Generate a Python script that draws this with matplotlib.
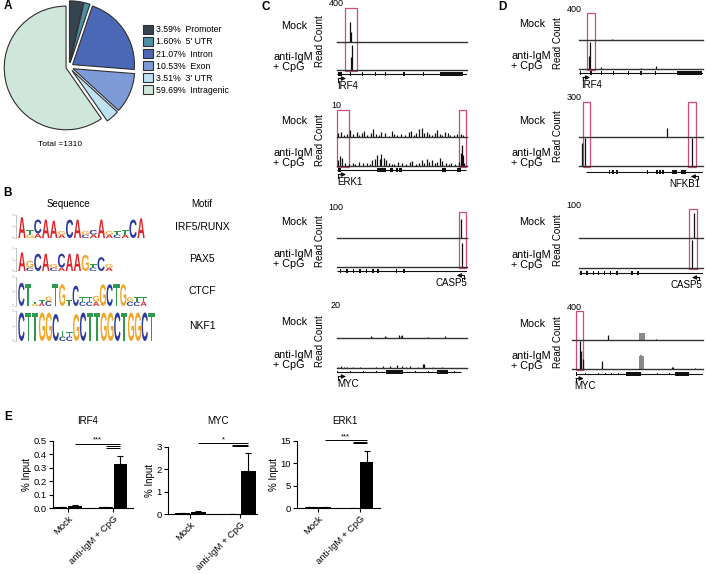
import matplotlib
matplotlib.use("Agg")
import matplotlib.pyplot as plt
import matplotlib.transforms as mtransforms
from matplotlib.patches import Rectangle, PathPatch
from matplotlib.textpath import TextPath
from matplotlib.font_manager import FontProperties

plt.rcParams["font.family"] = ["Liberation Sans", "DejaVu Sans"]

W, H = 708, 574

# ---------------- A: peak annotation ----------------
region_names = ["Promoter", "5' UTR", "Intron", "Exon", "3' UTR", "Intragenic"]
region_pcts = [3.59, 1.60, 21.07, 10.53, 3.51, 59.69]
region_colors = ["#36444f", "#4b8fa4", "#4a68b6", "#7d9bd6", "#bde2f2", "#cfe7db"]
total_peaks = 1310

# ---------------- B: motifs (columns bottom -> top, letter / bits) ----------------
motif_names = ["IRF5/RUNX", "PAX5", "CTCF", "NKF1"]
logo_irf5 = [
    [("A", 1.8)], [("G", 0.3), ("T", 0.4)], [("A", 0.4), ("C", 1.2)], [("A", 1.6)],
    [("A", 1.5)], [("A", 0.3), ("G", 0.3)], [("C", 1.6)], [("A", 1.6)],
    [("C", 0.3), ("G", 0.3)], [("A", 0.3), ("C", 0.4)], [("A", 1.6)], [("A", 0.3), ("G", 0.3)],
    [("C", 0.3), ("T", 0.3)], [("A", 0.3), ("T", 0.4)], [("C", 1.6)], [("A", 1.7)],
]
logo_pax5 = [
    [("A", 1.6)], [("C", 0.3), ("G", 0.6)], [("C", 1.5)], [("A", 1.5)],
    [("C", 0.3), ("G", 0.3)], [("A", 0.3), ("C", 1.2)], [("A", 1.5)], [("A", 1.5)],
    [("G", 1.4)], [("C", 0.3), ("T", 0.3)], [("C", 1.2)], [("A", 0.3), ("G", 0.3)],
]
logo_ctcf = [
    [("C", 1.6)], [("T", 1.5)], [("G", 0.15), ("T", 0.15)], [("A", 0.2), ("T", 0.2)],
    [("C", 0.35), ("G", 0.3)], [("T", 1.5)], [("G", 1.5)], [("T", 0.4)], [("C", 1.4)],
    [("C", 0.3), ("T", 0.3)], [("C", 0.3), ("T", 0.3)], [("A", 0.3), ("G", 0.4)],
    [("G", 1.5)], [("C", 1.5)], [("T", 1.5)], [("G", 1.5)], [("C", 0.3), ("G", 0.3)],
    [("C", 0.3), ("T", 0.3)], [("A", 0.3), ("T", 0.3)],
]
logo_nkf1 = [
    [("C", 1.9)], [("T", 1.9)], [("T", 1.9)], [("G", 1.9)], [("G", 1.9)], [("C", 1.8)],
    [("C", 0.3), ("T", 0.4)], [("C", 0.3), ("T", 0.3)], [("G", 1.8)], [("C", 1.9)],
    [("T", 1.9)], [("T", 1.9)], [("G", 1.9)], [("G", 1.9)], [("C", 1.9)], [("T", 1.9)],
    [("G", 1.9)], [("G", 1.9)], [("C", 1.9)], [("T", 1.9)],
]
logo_colors = {"A": "#e0262a", "C": "#2b3aa0", "G": "#f2a72b", "T": "#2e9a4b"}

# ---------------- C / D: read tracks (x = % of window, y = reads) ----------------
c_irf4_mock = [(10, 230), (11, 120)]
c_irf4_anti = [(10.5, 200), (11.5, 370)]
c_irf4_boxes = [(6, 15)]
c_irf4_exons = [(1, 3), (10, 0.8), (19, 0.8), (29, 0.8), (37, 0.8), (51, 1.5), (66, 0.8), (79, 18)]

c_erk1_mock_x = [1, 3, 5, 8, 10, 12, 15, 17, 19, 21, 23, 26, 28, 30, 32, 34, 37, 40, 42, 44,
                 46, 49, 52, 55, 57, 59, 61, 63, 65, 67, 69, 71, 73, 75, 77, 79, 81, 83, 85, 87,
                 90, 92, 95, 97]
c_erk1_mock_h = [1.5, 2.0, 0.8, 1.2, 2.5, 1.0, 1.8, 0.6, 1.4, 2.2, 0.9, 1.6, 3.0, 1.1, 0.7, 1.9,
                 1.3, 0.5, 2.4, 1.0, 0.6, 1.2, 0.8, 1.7, 2.1, 0.9, 1.4, 2.8, 3.2, 1.6, 2.0, 1.1,
                 0.8, 1.5, 2.6, 1.2, 0.9, 1.8, 1.3, 0.7, 0.6, 1.0, 1.2, 0.8]
c_erk1_anti_x = [1, 2, 4, 6, 9, 12, 14, 17, 20, 23, 25, 27, 29, 31, 33, 34, 36, 38, 40, 42,
                 44, 47, 50, 53, 56, 58, 61, 63, 65, 67, 69, 71, 73, 75, 77, 79, 81, 84, 86, 88,
                 91, 94, 95, 96, 97, 98]
c_erk1_anti_h = [2.0, 3.5, 2.8, 1.2, 0.8, 1.0, 0.6, 1.5, 0.9, 1.2, 0.7, 2.0, 2.6, 3.8, 2.4, 4.2,
                 3.0, 2.2, 1.1, 0.8, 0.6, 1.3, 0.9, 0.7, 1.4, 1.8, 0.6, 0.9, 2.1, 1.2, 2.5, 1.6,
                 2.2, 0.9, 1.4, 2.7, 1.9, 1.0, 0.7, 0.9, 0.6, 1.5, 4.5, 7.5, 3.8, 1.2]
c_erk1_boxes = [(0, 9), (94, 99.5)]
c_erk1_exons = [(1, 2), (31, 7), (41, 2), (45, 2), (48, 2), (81, 2.5), (92, 3)]

c_casp5_mock = [(95, 75)]
c_casp5_anti = [(96, 85)]
c_casp5_boxes = [(94, 99.5)]
c_casp5_exons = [(2, 1.2), (7, 1.2), (12, 1.2), (17, 1.2), (22, 1.2), (27, 1.2), (31, 1.2),
                 (45, 1.5), (51, 1.5)]

c_myc_mock = [(26, 1.5), (27, 1), (37, 1.5), (38, 1), (48, 2), (49, 1.5), (50, 2), (70, 1), (83, 1.5)]
c_myc_anti = [(1, 1), (3, 1.5), (5, 1), (8, 1), (12, 0.8), (18, 0.6), (30, 1), (35, 1.2), (41, 1.5),
              (46, 2), (50, 1.4), (53, 1), (56, 1.6), (62, 0.8), (66, 3), (67, 2.5), (74, 0.6), (81, 0.8)]
c_myc_exons = [(0, 0.6), (5, 0.6), (10, 0.6), (15, 0.6), (20, 0.6), (25, 0.6), (30, 0.6), (38, 13),
               (55, 0.6), (60, 0.6), (65, 0.6), (70, 0.6), (77, 8), (90, 0.6)]

d_irf4_mock = [(27, 12)]
d_irf4_anti = [(8.2, 180), (9, 380), (18, 30), (50, 20), (62, 40)]
d_irf4_boxes = [(6.5, 12.8)]
d_irf4_exons = [(0.5, 1), (8.5, 2), (17.5, 0.8), (27.5, 0.8), (39.5, 0.8), (49.5, 1.6), (61.5, 0.8), (79, 20)]

d_nfkb1_mock = [(71, 80)]
d_nfkb1_anti = [(2.5, 250), (5, 300), (91.5, 300)]
d_nfkb1_boxes = [(3, 9), (88, 94.5)]
d_nfkb1_exons = [(24, 1.2), (27, 1.2), (30, 1.2), (44, 0.6), (55, 1), (62, 1.5), (64.5, 1.5),
                 (67, 1.2), (75, 4), (82, 4)]

d_casp5_mock = [(92.5, 85)]
d_casp5_anti = [(91.5, 95)]
d_casp5_boxes = [(89, 95)]
d_casp5_exons = [(1, 1.2), (6, 1.2), (11, 1.2), (15, 1.2), (20, 1.2), (25, 1.2), (30, 1.2), (42, 1.2), (47, 1.2)]

d_myc_mock = [(27.5, 70), (64, 15)]
d_myc_mock_gray = [(52, 90), (53.5, 100), (55, 90)]
d_myc_anti = [(6, 400), (7, 260), (8.5, 150), (23, 110), (76, 30), (77, 25), (94, 20)]
d_myc_anti_gray = [(52, 180), (53, 200), (54, 180)]
d_myc_boxes = [(3, 8.4)]
d_myc_exons = [(3, 1), (10, 0.6), (15, 0.6), (20, 0.6), (25, 0.6), (30, 0.6), (35, 0.6), (41, 12),
               (60, 0.6), (65, 0.6), (70, 0.6), (74, 0.6), (79, 10), (92, 0.6)]

# ---------------- E: ChIP-qPCR ----------------
e_titles = ["IRF4", "MYC", "ERK1"]
e_groups = ["Mock", "anti-IgM + CpG"]
e_mock = [[0.008, 0.018], [0.03, 0.08], [0.20, 0.20]]
e_mock_err = [[0.002, 0.006], [0.01, 0.07], [0.10, 0.08]]
e_anti = [[0.008, 0.33], [0.0, 1.93], [0.0, 10.4]]
e_anti_err = [[0.002, 0.06], [0.0, 0.82], [0.0, 2.4]]
e_yticks = [[0, 0.1, 0.2, 0.3, 0.4, 0.5], [0, 1, 2, 3], [0, 5, 10, 15]]
e_yticklabels = [["0.0", "0.1", "0.2", "0.3", "0.4", "0.5"], ["0", "1", "2", "3"], ["0", "5", "10", "15"]]
e_sig_y = [[0.48, 0.46, 0.447], [3.18, 3.1, 3.04], [15.2, 14.8, 14.5]]
e_stars = ["***", "*", "***"]

fig = plt.figure(figsize=(W / 100, H / 100), dpi=100)


def px_axes(x0, y0, x1, y1):
    return fig.add_axes([x0 / W, 1 - y1 / H, (x1 - x0) / W, (y1 - y0) / H])


def ptext(x, y, s, **kw):
    return fig.text(x / W, 1 - y / H, s, **kw)


# panel letters
for letter, (lx, ly) in zip("ABCDE", [(8, 6), (8, 193), (266, 7), (502, 7), (8, 417)]):
    ptext(lx, ly, letter, fontsize=8.5, fontweight="bold", ha="center", va="center")

# ================= A =================
ax_pie = px_axes(1, -1, 137, 135)
wedges, _ = ax_pie.pie(region_pcts, colors=region_colors, startangle=90, counterclock=False,
                       explode=[0.07, 0.07, 0.07, 0.07, 0.07, 0.05],
                       wedgeprops=dict(edgecolor="#2f2f2f", linewidth=0.8))
ax_pie.set_xlim(-1.1, 1.1)
ax_pie.set_ylim(-1.1, 1.1)
ax_pie.set_aspect("equal")
ax_pie.axis("off")
fig.legend(wedges, [f"{p:.2f}%  {n}" for p, n in zip(region_pcts, region_names)],
           loc="upper left", bbox_to_anchor=(143 / W, 1 - 25 / H), frameon=False,
           fontsize=6.3, handlelength=1.15, handleheight=1.2, labelspacing=0.3,
           handletextpad=0.3, borderpad=0, borderaxespad=0)
ptext(38, 145, f"Total ={total_peaks}", fontsize=6, va="center")

# ================= B =================
LOGO_FP = FontProperties(family="Liberation Sans", weight="bold")


def draw_logo(ax, columns):
    for i, col in enumerate(columns):
        y = 0
        for ch, h in col:
            tp = TextPath((0, 0), ch, size=1, prop=LOGO_FP)
            bb = tp.get_extents()
            tr = (mtransforms.Affine2D().translate(-bb.x0, -bb.y0)
                  .scale(0.92 / bb.width, h / bb.height).translate(i + 0.04, y))
            ax.add_patch(PathPatch(tr.transform_path(tp), fc=logo_colors[ch], ec="none"))
            y += h


ptext(68, 204, "Sequence", fontsize=7, ha="center", va="center")
ptext(202, 204, "Motif", fontsize=7, ha="center", va="center")
logo_boxes = [(18, 215, 145, 238), (18, 248, 113, 271), (18, 277, 147, 306), (18, 311, 155, 341)]
for cols, name, box in zip([logo_irf5, logo_pax5, logo_ctcf, logo_nkf1], motif_names, logo_boxes):
    ax = px_axes(*box)
    draw_logo(ax, cols)
    ax.set_xlim(0, len(cols))
    ax.set_ylim(0, 2)
    for s in ["top", "right", "bottom"]:
        ax.spines[s].set_visible(False)
    ax.spines["left"].set_color("#aaaaaa")
    ax.spines["left"].set_linewidth(0.5)
    ax.spines["left"].set_position(("outward", 1.5))
    ax.set_xticks([])
    ax.set_yticks([0, 1, 2])
    ax.tick_params(axis="y", length=1.2, width=0.4, colors="#aaaaaa", labelsize=2.5, pad=0.5)
    ptext(202, (box[1] + box[3]) / 2, name, fontsize=7.5, ha="center", va="center")


# ================= C / D =================
BOX_COLOR = "#d04a78"


def draw_group(g, x0, x1, dx):
    top, mb, ab, gy = g["top"], g["mock_base"], g["anti_base"], g["gene_y"]
    # highlight boxes
    ov = px_axes(x0, top, x1, ab + 1)
    ov.set_xlim(0, 100)
    ov.set_ylim(0, 1)
    ov.axis("off")
    for bx0, bx1 in g["boxes"]:
        ov.add_patch(Rectangle((bx0, 0), bx1 - bx0, 1, fill=False, ec=BOX_COLOR, lw=0.9, clip_on=False))
    # tracks
    for t0, t1, peaks, gray in [(top, mb, g["mock"], g.get("mock_gray", [])),
                                (mb + 1, ab, g["anti"], g.get("anti_gray", []))]:
        ax = px_axes(x0, t0, x1, t1)
        ax.set_xlim(0, 100)
        ax.set_ylim(0, g["ymax"])
        ax.axis("off")
        if gray:
            ax.vlines([p[0] for p in gray], 0, [p[1] for p in gray], color="#888888", lw=1.4)
        if peaks:
            ax.vlines([p[0] for p in peaks], 0, [p[1] for p in peaks], color="#111111", lw=0.9)
        ax.axhline(0, color="#333333", lw=1.0, clip_on=False)
    # gene model
    ga = px_axes(x0, gy - 4, x1, gy + 16)
    ga.set_xlim(0, 100)
    ga.set_ylim(-16, 4)
    ga.axis("off")
    gs, ge = g["span"]
    ga.hlines(0, gs, ge, color="#111111", lw=0.8)
    ex = g["exons"]
    ga.bar([e[0] for e in ex], [3.6 if e[1] > 0.7 else 2.4 for e in ex],
           bottom=[-1.8 if e[1] > 0.7 else -1.2 for e in ex],
           width=[e[1] for e in ex], align="edge", color="#111111", lw=0)
    tss, strand = g["tss"], g["strand"]
    ga.plot([tss, tss], [-4.5, -7.5], color="#111111", lw=0.8, clip_on=False)
    ga.annotate("", xy=(tss + 6 * strand, -4.5), xytext=(tss, -4.5), annotation_clip=False,
                arrowprops=dict(arrowstyle="-|>,head_length=0.25,head_width=0.12", lw=0.8,
                                color="#111111", shrinkA=0, shrinkB=0))
    if strand > 0:
        ga.text(tss - 1, -12, g["name"], fontsize=7, ha="left", va="center", clip_on=False)
    else:
        ga.text(tss + 2, -12, g["name"], fontsize=7, ha="right", va="center", clip_on=False)
    # labels
    ptext(294 + dx, mb - 16, "Mock", fontsize=7.8, ha="center", va="center")
    ptext(273 + dx, ab - 8, "anti-IgM\n+ CpG", fontsize=7.8, ha="left", va="center", linespacing=1.05)
    ptext(320 + dx, (top + ab) / 2 + 2, "Read Count", fontsize=7, rotation=90, ha="center", va="center")
    ptext(336 + dx, top - 4, str(g["ymax"]), fontsize=6.5, ha="center", va="center")


c_groups = [
    dict(name="IRF4", top=8, mock_base=42, anti_base=70, gene_y=74, ymax=400,
         mock=c_irf4_mock, anti=c_irf4_anti, boxes=c_irf4_boxes, exons=c_irf4_exons,
         span=(0, 100), tss=1, strand=1),
    dict(name="ERK1", top=110, mock_base=137, anti_base=166, gene_y=170, ymax=10,
         mock=list(zip(c_erk1_mock_x, c_erk1_mock_h)), anti=list(zip(c_erk1_anti_x, c_erk1_anti_h)),
         boxes=c_erk1_boxes, exons=c_erk1_exons, span=(0, 99), tss=1, strand=1),
    dict(name="CASP5", top=212, mock_base=238, anti_base=267, gene_y=271, ymax=100,
         mock=c_casp5_mock, anti=c_casp5_anti, boxes=c_casp5_boxes, exons=c_casp5_exons,
         span=(0, 100), tss=98, strand=-1),
    dict(name="MYC", top=310, mock_base=338, anti_base=368, gene_y=372, ymax=20,
         mock=c_myc_mock, anti=c_myc_anti, boxes=[], exons=c_myc_exons,
         span=(0, 95), tss=1, strand=1),
]
d_groups = [
    dict(name="IRF4", top=13, mock_base=40, anti_base=69, gene_y=73, ymax=400,
         mock=d_irf4_mock, anti=d_irf4_anti, boxes=d_irf4_boxes, exons=d_irf4_exons,
         span=(0, 100), tss=3, strand=1),
    dict(name="NFKB1", top=102, mock_base=137, anti_base=166, gene_y=172, ymax=300,
         mock=d_nfkb1_mock, anti=d_nfkb1_anti, boxes=d_nfkb1_boxes, exons=d_nfkb1_exons,
         span=(6, 100), tss=96, strand=-1),
    dict(name="CASP5", top=209, mock_base=238, anti_base=268, gene_y=273, ymax=100,
         mock=d_casp5_mock, anti=d_casp5_anti, boxes=d_casp5_boxes, exons=d_casp5_exons,
         span=(0, 100), tss=97, strand=-1),
    dict(name="MYC", top=311, mock_base=340, anti_base=369, gene_y=374, ymax=400,
         mock=d_myc_mock, mock_gray=d_myc_mock_gray, anti=d_myc_anti, anti_gray=d_myc_anti_gray,
         boxes=d_myc_boxes, exons=d_myc_exons, span=(3, 100), tss=3, strand=1),
]
for g in c_groups:
    draw_group(g, 337, 467, 0)
for g, gx0 in zip(d_groups, [579, 579, 579, 572]):
    draw_group(g, gx0, 703, 238)

# ================= E =================
e_boxes = [(53, 441, 133, 508), (168, 447, 257, 514), (297, 441, 380, 508)]
e_xlims = [(-0.33, 1.44), (-0.44, 1.34), (-0.5, 1.48)]
e_title_x = [88, 218, 345]
offsets = [-0.16, 0.16]
for i in range(3):
    ax = px_axes(*e_boxes[i])
    xs = [gx + o for gx in [0, 1] for o in offsets]
    vals = e_mock[i] + e_anti[i]
    errs = e_mock_err[i] + e_anti_err[i]
    ax.bar(xs, vals, width=0.3, color="black", yerr=[[0] * 4, errs], capsize=2.5,
           error_kw=dict(lw=0.8, capthick=0.8, ecolor="black"))
    ax.set_xlim(*e_xlims[i])
    ax.set_ylim(0, e_yticks[i][-1])
    ax.set_yticks(e_yticks[i])
    ax.set_yticklabels(e_yticklabels[i])
    ax.set_xticks([0, 1])
    ax.set_xticklabels(e_groups, rotation=45, ha="right", rotation_mode="anchor", fontsize=7)
    ax.tick_params(axis="both", length=3, width=0.8, labelsize=6.8, pad=1.5)
    ax.set_ylabel("% Input", fontsize=7, labelpad=1)
    for s in ["top", "right"]:
        ax.spines[s].set_visible(False)
    for s in ["left", "bottom"]:
        ax.spines[s].set_linewidth(0.8)
    sy = e_sig_y[i]
    ax.hlines(sy[0], xs[1], xs[3], color="black", lw=0.7, clip_on=False)
    ax.hlines(sy[1:], xs[2], xs[3], color="black", lw=0.7, clip_on=False)
    ax.text((xs[1] + xs[3]) / 2, sy[0], e_stars[i], fontsize=5.5, ha="center", va="bottom", clip_on=False)
    ptext(e_title_x[i], 421, e_titles[i], fontsize=7, ha="center", va="center")

fig.savefig("out.png", dpi=100)
